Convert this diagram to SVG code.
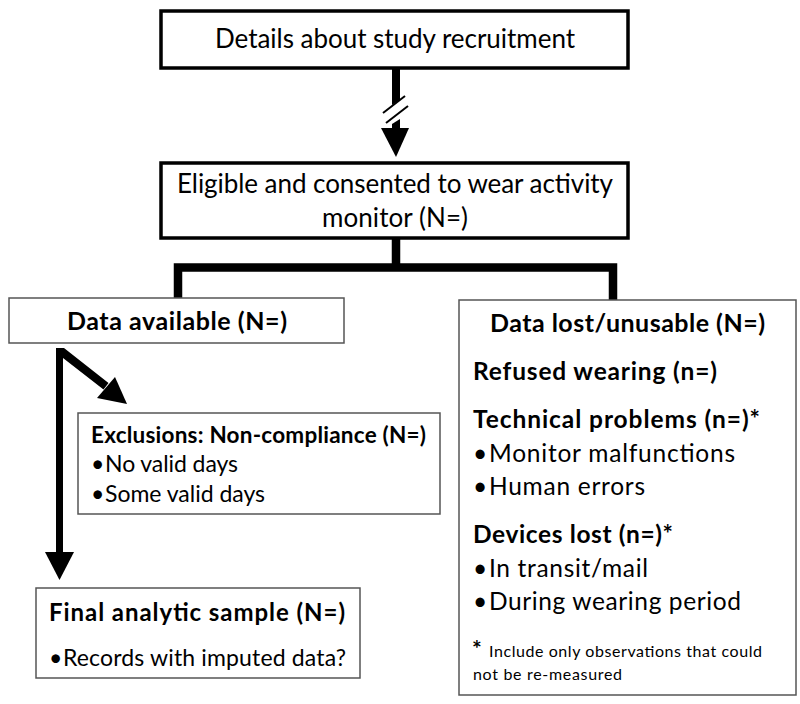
<svg xmlns="http://www.w3.org/2000/svg" width="800" height="704" viewBox="0 0 800 704">
<style>
text{font-family:"Lato","Open Sans","Liberation Sans",sans-serif;fill:#000}
.thick{fill:#fff;stroke:#000;stroke-width:3.5}
.thin{fill:#fff;stroke:#555;stroke-width:1.5}
.b{font-weight:bold}
.c{text-anchor:middle}
</style>
<rect width="800" height="704" fill="#fff"/>
<g id="connectors">
<polygon points="392,68 400,68 400,100 392,105"/>
<line x1="383" y1="113" x2="405" y2="96" stroke="#000" stroke-width="2"/>
<line x1="386" y1="123" x2="408" y2="106" stroke="#000" stroke-width="2"/>
<polygon points="392,124 400,119 400,129 392,129"/>
<polygon points="381,128 409,128 396,157"/>
<path d="M396 238 V267.5 M178 298 V267.5 H613 V300" fill="none" stroke="#000" stroke-width="8.5" stroke-linejoin="miter"/>
<polygon points="56,348 64,348 108.5,383 103.5,389.5 63,358 63,553 56,553"/>
<polygon points="97,398 115,377 127,404"/>
<polygon points="45,552 74,552 59.5,580"/>
</g>
<g id="recruitment">
<rect class="thick" x="161" y="11" width="467" height="57"/>
<text class="c" x="395" y="48" font-size="26" textLength="360">Details about study recruitment</text>
</g>
<g id="eligible">
<rect class="thick" x="161" y="163" width="467" height="75"/>
<text class="c" x="395" y="193" font-size="26" textLength="436">Eligible and consented to wear activity</text>
<text class="c" x="395" y="227" font-size="26" textLength="146">monitor (N=)</text>
</g>
<g id="available">
<rect class="thin" x="9" y="298" width="335" height="45"/>
<text class="c b" x="177" y="330" font-size="25" textLength="220">Data available (N=)</text>
</g>
<g id="exclusions">
<rect class="thin" x="78" y="413" width="362" height="101"/>
<text class="b" x="91" y="443" font-size="22.5" textLength="335">Exclusions: Non-compliance (N=)</text>
<text font-size="23" y="472"><tspan x="91">•</tspan><tspan x="105" textLength="133">No valid days</tspan></text>
<text font-size="23" y="502"><tspan x="91">•</tspan><tspan x="105" textLength="160">Some valid days</tspan></text>
</g>
<g id="final">
<rect class="thin" x="36" y="588" width="324" height="90"/>
<text class="b" x="49" y="621" font-size="24" textLength="296">Final analytic sample (N=)</text>
<text font-size="23" y="666"><tspan x="49">•</tspan><tspan x="63" textLength="283">Records with imputed data?</tspan></text>
</g>
<g id="lost">
<rect class="thin" x="459" y="300" width="337" height="395"/>
<text class="c b" x="627.5" y="332" font-size="25" textLength="275">Data lost/unusable (N=)</text>
<text class="b" x="473" y="380" font-size="24.5" textLength="244">Refused wearing (n=)</text>
<text class="b" x="473" y="428" font-size="24.5" textLength="287">Technical problems (n=)*</text>
<text font-size="24.5" y="462"><tspan x="473">•</tspan><tspan x="489" textLength="246">Monitor malfunctions</tspan></text>
<text font-size="24.5" y="495"><tspan x="473">•</tspan><tspan x="489" textLength="156">Human errors</tspan></text>
<text class="b" x="473" y="543" font-size="24.5" textLength="200">Devices lost (n=)*</text>
<text font-size="24.5" y="577"><tspan x="473">•</tspan><tspan x="489" textLength="159">In transit/mail</tspan></text>
<text font-size="24.5" y="610"><tspan x="473">•</tspan><tspan x="489" textLength="252">During wearing period</tspan></text>
<text y="657"><tspan x="472" font-size="23" font-weight="bold">*</tspan><tspan x="489" font-size="16" textLength="273">Include only observations that could</tspan></text>
<text x="473" y="680" font-size="16" textLength="149">not be re-measured</text>
</g>
</svg>
